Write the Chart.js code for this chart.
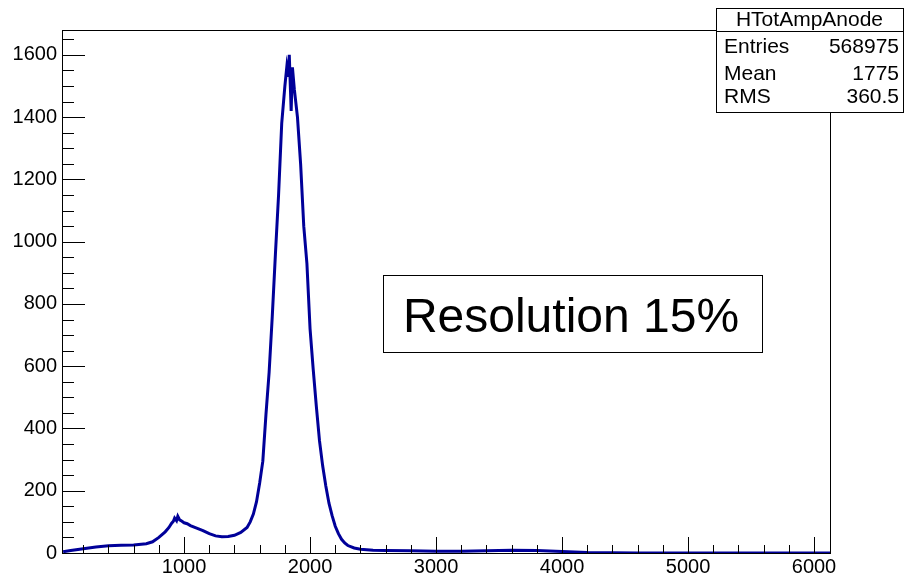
<!DOCTYPE html>
<html>
<head>
<meta charset="utf-8">
<script src="https://cdn.jsdelivr.net/npm/chart.js@4.4.1/dist/chart.umd.min.js"></script>
<style>
  html, body { margin: 0; padding: 0; background: #fff; }
  #wrap { width: 904px; height: 578px; }
</style>
</head>
<body>
<div id="wrap"><canvas id="chart"></canvas></div>
<script>
// HTotAmpAnode histogram, values
const amplitude = [
  40, 100, 200, 300, 400, 500, 600, 700, 750, 800, 850, 880, 900, 915, 925, 940, 950, 965, 975,
  1000, 1025, 1050, 1100, 1150, 1200, 1250, 1300, 1350, 1400, 1450, 1500, 1525, 1550, 1575,
  1600, 1625, 1650, 1675, 1700, 1725, 1750, 1775, 1800, 1815, 1825, 1835, 1845, 1850,
  1860, 1875, 1900, 1925, 1950, 1975, 2000, 2025, 2050, 2075, 2100, 2125, 2150, 2175,
  2200, 2225, 2250, 2275, 2300, 2350, 2400, 2500, 2600, 2800, 3000, 3200, 3400, 3600,
  3800, 4000, 4200, 4400, 4600, 6127
];
const counts = [
  4, 8, 14, 19, 23, 25, 26, 30, 36, 50, 68, 82, 95, 102, 112, 104, 118, 106, 104,
  97, 94, 88, 80, 72, 62, 55, 52, 53, 57, 66, 82, 100, 125, 165,
  225, 295, 445, 580, 760, 960, 1150, 1380, 1500, 1560, 1530, 1600, 1480, 1420,
  1560, 1490, 1400, 1250, 1050, 930, 720, 590, 470, 360, 280, 215, 160, 120,
  86, 62, 44, 32, 24, 16, 12, 9, 8, 7, 6, 6, 7, 9,
  8, 5, 2, 1, 0, 0
];
const xTicks = [1000, 2000, 3000, 4000, 5000, 6000];
const yTicks = [0, 200, 400, 600, 800, 1000, 1200, 1400, 1600];
const statsTitle = 'HTotAmpAnode';
const statsLabels = ['Entries', 'Mean', 'RMS'];
const statsValues = ['568975', '1775', '360.5'];
const noteText = 'Resolution 15%';

const FONT = '"Liberation Sans", Arial, Helvetica, sans-serif';

// frame, inward ticks, stats box and the text box, ROOT style
const rootFrame = {
  id: 'rootFrame',
  afterDraw(chart) {
    const ctx = chart.ctx;
    const a = chart.chartArea;
    const xs = chart.scales.x, ys = chart.scales.y;
    ctx.save();
    ctx.strokeStyle = '#000';
    ctx.lineWidth = 1;
    ctx.beginPath();
    // x ticks, major every 1000, minor every 200
    for (let v = 0; v <= xs.max; v += 200) {
      if (v < xs.min) continue;
      const px = Math.round(xs.getPixelForValue(v)) + 0.5;
      const len = v % 1000 === 0 ? 16 : 8;
      ctx.moveTo(px, a.bottom);
      ctx.lineTo(px, a.bottom - len);
    }
    // y ticks, major every 200, minor every 50
    for (let v = 0; v <= ys.max; v += 50) {
      const py = Math.round(ys.getPixelForValue(v)) + 0.5;
      const len = v % 200 === 0 ? 23 : 12;
      ctx.moveTo(a.left, py);
      ctx.lineTo(a.left + len, py);
    }
    ctx.stroke();
    ctx.strokeRect(Math.round(a.left) + 0.5, Math.round(a.top) + 0.5,
      Math.round(a.right - a.left), Math.round(a.bottom - a.top));

    // stats box
    const bx = 716, by = 8, bw = 187, bh = 104;
    ctx.fillStyle = '#fff';
    ctx.fillRect(bx, by, bw, bh);
    ctx.strokeRect(bx + 0.5, by + 0.5, bw, bh);
    ctx.beginPath();
    ctx.moveTo(bx, by + 23.5);
    ctx.lineTo(bx + bw, by + 23.5);
    ctx.stroke();
    ctx.fillStyle = '#000';
    ctx.font = '21px ' + FONT;
    ctx.textBaseline = 'middle';
    ctx.textAlign = 'center';
    ctx.fillText(statsTitle, bx + bw / 2, by + 12);
    const rowY = [47, 74, 97];
    statsLabels.forEach((lab, i) => {
      ctx.textAlign = 'left';
      ctx.fillText(lab, bx + 8, rowY[i]);
      ctx.textAlign = 'right';
      ctx.fillText(statsValues[i], bx + bw - 4, rowY[i]);
    });

    // resolution box
    ctx.fillStyle = '#fff';
    ctx.fillRect(383, 275, 379, 77);
    ctx.strokeRect(383.5, 275.5, 379, 77);
    ctx.fillStyle = '#000';
    ctx.font = '48px ' + FONT;
    ctx.textAlign = 'center';
    ctx.fillText(noteText, 571, 319);
    ctx.restore();
  }
};

new Chart(document.getElementById('chart'), {
  type: 'line',
  data: {
    datasets: [{
      label: statsTitle,
      data: amplitude.map((x, i) => ({ x: x, y: counts[i] })),
      borderColor: '#000099',
      borderWidth: 3,
      pointRadius: 0,
      tension: 0,
      fill: false
    }]
  },
  options: {
    responsive: true,
    maintainAspectRatio: false,
    animation: false,
    devicePixelRatio: 1,
    layout: { padding: { top: 30, right: 74, left: 0, bottom: 0 } },
    plugins: { legend: { display: false }, tooltip: { enabled: false } },
    scales: {
      x: {
        type: 'linear',
        min: 31,
        max: 6127,
        grid: { display: false, drawTicks: false },
        border: { display: false },
        afterBuildTicks: s => { s.ticks = xTicks.map(v => ({ value: v })); },
        afterFit: s => { s.height = 25; },
        ticks: {
          color: '#000', font: { family: FONT, size: 20 }, padding: 2, maxRotation: 0,
          callback: v => String(v)
        }
      },
      y: {
        min: 0,
        max: 1680,
        grid: { display: false, drawTicks: false },
        border: { display: false },
        afterBuildTicks: s => { s.ticks = yTicks.map(v => ({ value: v })); },
        afterFit: s => { s.width = 62; },
        ticks: {
          color: '#000', font: { family: FONT, size: 20 }, padding: 5,
          callback: v => String(v)
        }
      }
    }
  },
  plugins: [rootFrame]
});
</script>
</body>
</html>
